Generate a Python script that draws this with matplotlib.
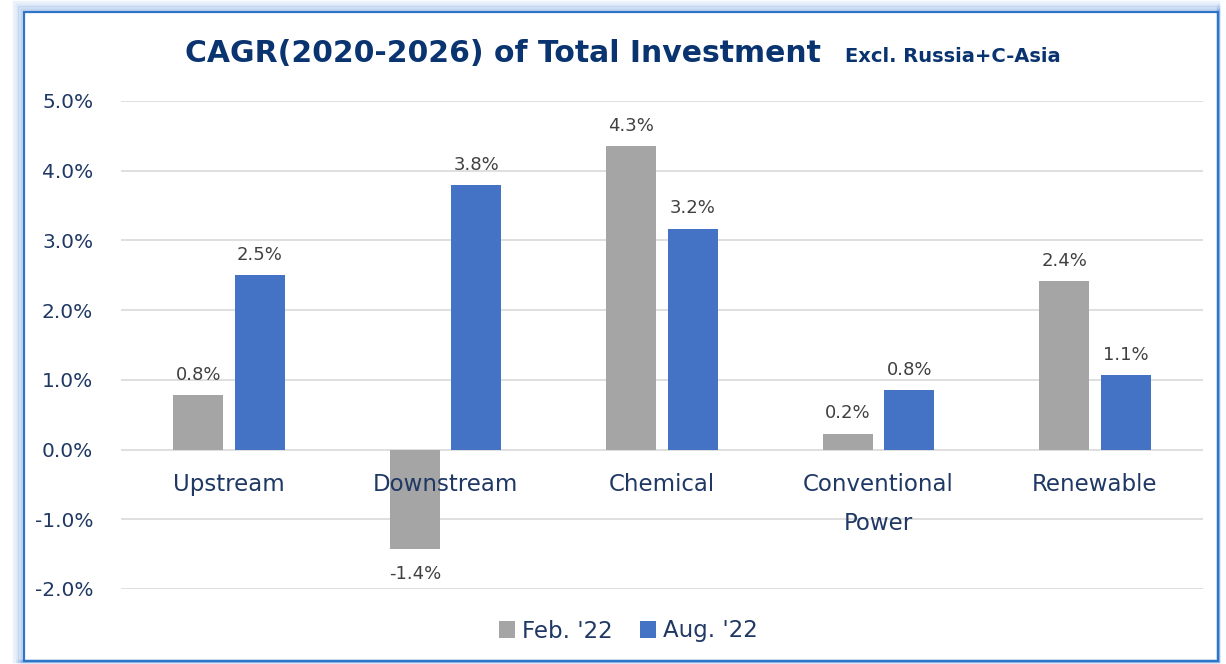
import matplotlib
matplotlib.use("Agg")
import matplotlib.pyplot as plt
from matplotlib.patches import Rectangle
import numpy as np

categories = ["Upstream", "Downstream", "Chemical", "Conventional\nPower", "Renewable"]
feb22 = [0.78, -1.42, 4.35, 0.23, 2.42]
aug22 = [2.50, 3.80, 3.17, 0.85, 1.07]
feb_labels = ["0.8%", "-1.4%", "4.3%", "0.2%", "2.4%"]
aug_labels = ["2.5%", "3.8%", "3.2%", "0.8%", "1.1%"]
series_names = ["Feb. '22", "Aug. '22"]
yticks = [-2, -1, 0, 1, 2, 3, 4, 5]

GRAY = "#A5A5A5"
BLUE = "#4472C4"
NAVY = "#1F3864"
TITLE = "#0A3470"
LABEL = "#404040"

W, H = 1226, 664
fig = plt.figure(figsize=(W / 100, H / 100), dpi=100)
fig.patch.set_facecolor("white")

# frame with soft glow
for i, a in enumerate([0.10, 0.15, 0.22, 0.30]):
    d = (4 - i) * 2.5
    fig.patches.append(Rectangle(((24 - d) / W, (H - 661) / H), (1194 + d) / W, (649 + d) / H,
                                 transform=fig.transFigure, fill=False,
                                 edgecolor="#4A86D8", alpha=a, lw=2.5))
fig.patches.append(Rectangle((24 / W, (H - 661) / H), 1194 / W, 649 / H,
                             transform=fig.transFigure, fill=False,
                             edgecolor="#2E75C6", lw=1.6))

ax = fig.add_axes([121 / W, (H - 589) / H, 1082 / W, 488 / H])
ax.set_facecolor("none")
x = np.arange(len(categories))
bw = 0.231
off = 0.142
b1 = ax.bar(x - off, feb22, width=bw, color=GRAY, zorder=3)
b2 = ax.bar(x + off, aug22, width=bw, color=BLUE, zorder=3)

ax.set_xlim(-0.5, len(categories) - 0.5)
ax.set_ylim(-2, 5)
ax.set_yticks(yticks)
ax.set_yticklabels([f"{v:.1f}%" for v in yticks], color=NAVY, fontsize=14.5)
ax.tick_params(axis="y", length=0, pad=20)
ax.set_xticks([])
for s in ax.spines.values():
    s.set_visible(False)
ax.grid(axis="y", color="#D9D9D9", lw=1.2, zorder=0)
ax.set_axisbelow(True)

for rect, lab, v in zip(b1, feb_labels, feb22):
    cx = rect.get_x() + rect.get_width() / 2
    if v >= 0:
        ax.annotate(lab, (cx, v), xytext=(0, 8), textcoords="offset points",
                    ha="center", va="bottom", fontsize=13, color=LABEL)
    else:
        ax.annotate(lab, (cx, v), xytext=(0, -12), textcoords="offset points",
                    ha="center", va="top", fontsize=13, color=LABEL)
for rect, lab, v in zip(b2, aug_labels, aug22):
    cx = rect.get_x() + rect.get_width() / 2
    ax.annotate(lab, (cx, v), xytext=(0, 8), textcoords="offset points",
                ha="center", va="bottom", fontsize=13, color=LABEL)

for xi, c in zip(x, categories):
    ax.annotate(c, (xi, 0), xytext=(0, -17), textcoords="offset points",
                ha="center", va="top", fontsize=16.5, color=NAVY,
                linespacing=1.9, zorder=5)

fig.text(185 / W, 1 - 53 / H, "CAGR(2020-2026) of Total Investment", fontsize=21.5,
         fontweight="bold", color=TITLE, ha="left", va="center")
fig.text(845 / W, 1 - 57 / H, "Excl. Russia+C-Asia", fontsize=14,
         fontweight="bold", color=TITLE, ha="left", va="center")

leg = fig.legend([b1, b2], series_names, loc="center", bbox_to_anchor=(628 / W, 1 - 631 / H),
                 ncol=2, frameon=False, fontsize=16.5, handlelength=0.7, handleheight=0.7,
                 handletextpad=0.3, columnspacing=1.2)
for t in leg.get_texts():
    t.set_color(NAVY)

fig.savefig("out.png", dpi=100, facecolor="white")
